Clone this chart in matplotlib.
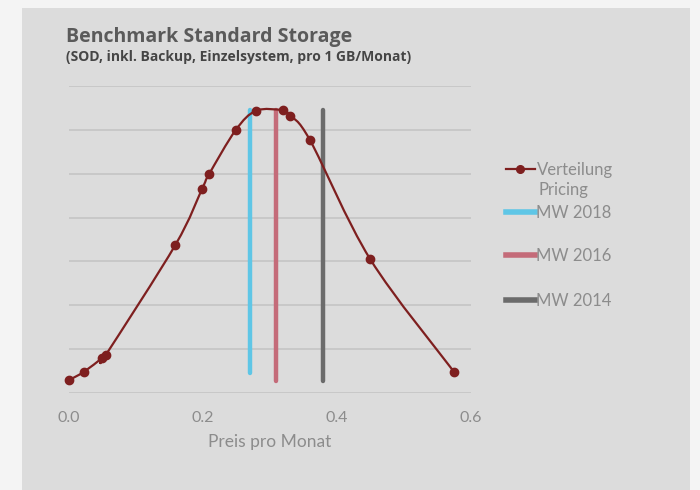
import numpy as np
import matplotlib.pyplot as plt
from matplotlib.path import Path
from matplotlib.patches import PathPatch, Rectangle
from matplotlib.lines import Line2D

# price distribution (EUR per GB and month) and relative frequency
preis = [0.0, 0.0224, 0.0488, 0.0548, 0.159, 0.199, 0.209, 0.249,
         0.2795, 0.3194, 0.330, 0.360, 0.450, 0.575]
haeufigkeit = [0.30, 0.49, 0.795, 0.87, 3.38, 4.66, 4.98, 5.99,
               6.43, 6.44, 6.32, 5.76, 3.05, 0.49]

# mean values of earlier benchmarks
mw_jahre = ["MW 2018", "MW 2016", "MW 2014"]
mw_preis = [0.2706, 0.3094, 0.3797]
mw_unten = [0.47, 0.28, 0.28]
mw_oben = [6.45, 6.45, 6.45]
mw_farben = ["#5fc6e6", "#c46b79", "#6b6b6b"]

kurve_farbe = "#7e1f1f"
text_grau = "#8c8c8c"

plt.rcParams['font.family'] = ['Lato', 'DejaVu Sans']

fig = plt.figure(figsize=(7, 4.9), dpi=100, facecolor="#f4f4f4")
fig.add_artist(Rectangle((22 / 700, 0), 668 / 700, 482 / 490,
                         transform=fig.transFigure, facecolor="#dcdcdc",
                         edgecolor="none", zorder=-10))

ax = fig.add_axes([69 / 700, 96.7 / 490, 401.7 / 700, 307.6 / 490])
ax.set_facecolor("none")
ax.set_xlim(0, 0.6)
ax.set_ylim(0, 7)

# smoothed line through the points (Catmull-Rom as cubic Bezier)
pts = np.column_stack([preis, haeufigkeit])
verts = [pts[0]]
codes = [Path.MOVETO]
n = len(pts)
for i in range(n - 1):
    p0 = pts[i - 1] if i > 0 else pts[i]
    p1 = pts[i]
    p2 = pts[i + 1]
    p3 = pts[i + 2] if i + 2 < n else pts[i + 1]
    verts += [p1 + (p2 - p0) / 6, p2 - (p3 - p1) / 6, p2]
    codes += [Path.CURVE4] * 3
ax.add_patch(PathPatch(Path(verts, codes), facecolor="none",
                       edgecolor=kurve_farbe, lw=1.6, zorder=3, clip_on=False))
ax.plot(preis, haeufigkeit, ls="none", marker="o", ms=6, color=kurve_farbe,
        zorder=4, clip_on=False)

for x, y0, y1, c in zip(mw_preis, mw_unten, mw_oben, mw_farben):
    ax.plot([x, x], [y0, y1], color=c, lw=3.2, solid_capstyle="round", zorder=2)

ax.set_yticks(range(8))
ax.yaxis.grid(True, color="#c8c8c8", lw=1.4)
ax.set_axisbelow(True)
ax.tick_params(axis="y", left=False, labelleft=False)
ax.tick_params(axis="x", length=0, pad=13, labelsize=11.5, labelcolor=text_grau)
ax.set_xticks([0.0, 0.2, 0.4, 0.6])
ax.set_xticklabels(["0.0", "0.2", "0.4", "0.6"])
for s in ax.spines.values():
    s.set_visible(False)
ax.set_xlabel("Preis pro Monat", fontsize=12.5, color=text_grau, labelpad=6)

# legend: one entry per call so the rows can sit where they belong
handles = [Line2D([], [], color=kurve_farbe, lw=1.6, marker="o", ms=5.5)]
handles += [Line2D([], [], color=c, lw=4) for c in mw_farben]
labels = ["Verteilung", *mw_jahre]
zeilen_y = [170, 213, 256, 301]
for h, lab, yy in zip(handles, labels, zeilen_y):
    fig.legend([h], [lab], loc="center left", bbox_to_anchor=(499 / 700, 1 - yy / 490),
               frameon=False, fontsize=12, labelcolor=text_grau, handlelength=1.75,
               handletextpad=0.1, borderaxespad=0)
fig.text(538 / 700, 1 - 190 / 490, "Pricing", fontsize=12, color=text_grau, va="center")

fig.text(66 / 700, 1 - 37 / 490, "Benchmark Standard Storage", fontsize=14,
         fontweight="bold", color="#5a5a5a", va="center", family="Open Sans")
fig.text(66 / 700, 1 - 57.5 / 490, "(SOD, inkl. Backup, Einzelsystem, pro 1 GB/Monat)",
         fontsize=10, fontweight="bold", color="#454545", va="center", family="Open Sans")

fig.savefig("out.png", dpi=100, facecolor=fig.get_facecolor())
